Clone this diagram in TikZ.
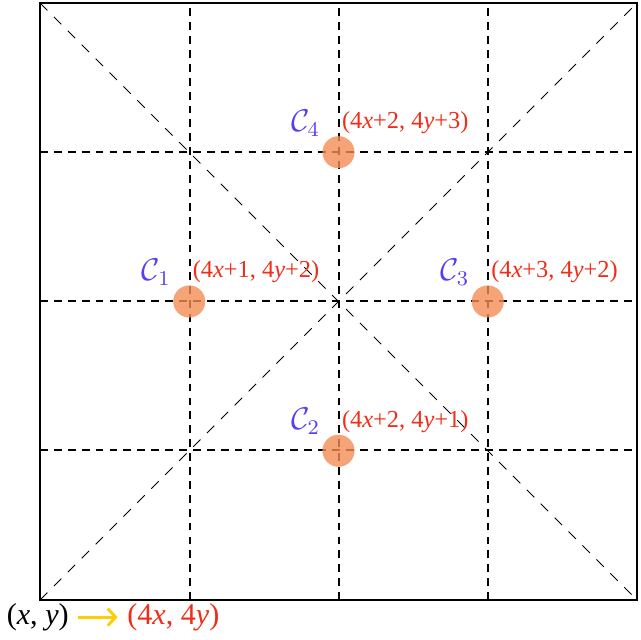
\documentclass[tikz,border=0pt]{standalone}
\usepackage{fontspec}
\setmainfont{Liberation Serif}
\usetikzlibrary{calc, arrows.meta, positioning}
\definecolor{labred}{RGB}{240,45,25}
\definecolor{calblue}{RGB}{85,65,245}
\definecolor{siteorange}{RGB}{242,140,85}
\definecolor{mapyellow}{RGB}{255,205,0}

\begin{document}
\begin{tikzpicture}[
  gridline/.style={dash pattern=on 3pt off 2.3pt, line width=0.8pt},
  diagline/.style={dash pattern=on 4pt off 3.5pt, line width=0.35pt},
  site/.style={circle, fill=siteorange, fill opacity=0.8, minimum size=0.43cm, inner sep=0pt},
  cname/.style={text=calblue, inner sep=0pt, font=\fontsize{12}{14}\selectfont},
  cpos/.style={text=labred, inner sep=0pt, font=\fontsize{9.3}{11}\selectfont},
  mapnode/.style={inner sep=1pt, font=\fontsize{11.5}{14}\selectfont}
]
\useasboundingbox (-0.536,-0.536) rectangle (8.04,8.04);
% cells of 2cm, box 4 x 4 cells
\draw[diagline] (0,0) -- (8,8);
\draw[diagline] (0,8) -- (8,0);
\foreach \t in {2.005,4.005,6.005}{
  \draw[gridline] (\t,0) -- (\t,8);
  \draw[gridline] (0,\t) -- (8,\t);
}
\draw[line width=0.8pt] (0,0) rectangle (8,8);
% sub-sample sites
\node[site] (c1) at (2,4) {};
\node[site] (c2) at (4,2) {};
\node[site] (c3) at (6,4) {};
\node[site] (c4) at (4,6) {};
\foreach \s/\dx/\dy in {1/1/2, 2/2/1, 3/3/2, 4/2/3}{
  \node[cname, above left=0.21cm and 0.24cm of c\s.center, anchor=south east] (n\s)
    {$\mathcal{C}_{\s}$};
  \node[cpos, above right=0.24cm and 0.04cm of c\s.center, anchor=south west] (p\s)
    {(4\textit{x}+\dx, 4\textit{y}+\dy)};
}
% mapping of coordinates
\node[mapnode] (src) at (-0.03,-0.23) {(\textit{x}, \textit{y})};
\node[mapnode, text=labred, right=0.7cm of src] (dst) {(4\textit{x}, 4\textit{y})};
\draw[mapyellow, line width=1.1pt, -{Straight Barb[length=3pt, width=6.5pt]},
  shorten <=2.4pt, shorten >=2.5pt] (src) -- (dst);
\end{tikzpicture}
\end{document}
